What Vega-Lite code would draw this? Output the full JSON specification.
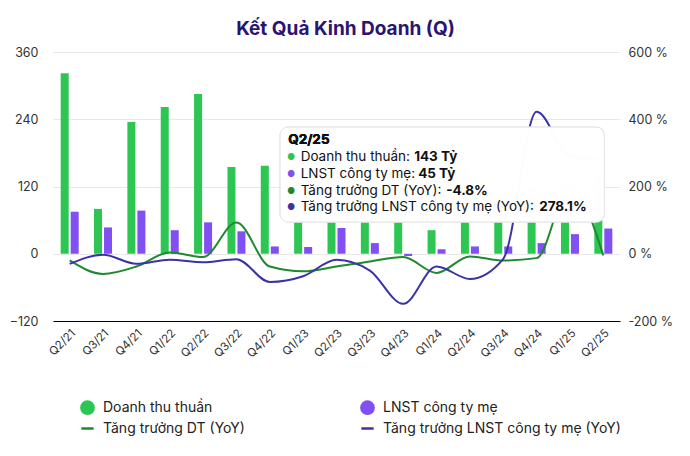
{
  "$schema": "https://vega.github.io/schema/vega-lite/v6.json",
  "width": 567,
  "height": 269,
  "autosize": {"type": "none"},
  "padding": {"left": 53, "top": 52, "right": 70, "bottom": 135},
  "background": "white",
  "config": {
    "font": "Inter",
    "view": {"stroke": null},
    "axis": {"labelFont": "Inter", "labelColor": "#333333", "titleFont": "Inter"},
    "legend": {"labelFont": "Inter"}
  },
  "title": {
    "text": "Kết Quả Kinh Doanh (Q)",
    "fontSize": 19,
    "fontWeight": "bold",
    "color": "#2B1470",
    "anchor": "middle",
    "offset": 7,
    "dx": 9
  },
  "datasets": {
    "main": [
      {"q": "Q2/21", "s": "Doanh thu thuần", "v": 322},
      {"q": "Q3/21", "s": "Doanh thu thuần", "v": 80},
      {"q": "Q4/21", "s": "Doanh thu thuần", "v": 235},
      {"q": "Q1/22", "s": "Doanh thu thuần", "v": 262},
      {"q": "Q2/22", "s": "Doanh thu thuần", "v": 285},
      {"q": "Q3/22", "s": "Doanh thu thuần", "v": 155},
      {"q": "Q4/22", "s": "Doanh thu thuần", "v": 157},
      {"q": "Q1/23", "s": "Doanh thu thuần", "v": 120},
      {"q": "Q2/23", "s": "Doanh thu thuần", "v": 158},
      {"q": "Q3/23", "s": "Doanh thu thuần", "v": 108},
      {"q": "Q4/23", "s": "Doanh thu thuần", "v": 133},
      {"q": "Q1/24", "s": "Doanh thu thuần", "v": 42},
      {"q": "Q2/24", "s": "Doanh thu thuần", "v": 150},
      {"q": "Q3/24", "s": "Doanh thu thuần", "v": 82},
      {"q": "Q4/24", "s": "Doanh thu thuần", "v": 118},
      {"q": "Q1/25", "s": "Doanh thu thuần", "v": 127},
      {"q": "Q2/25", "s": "Doanh thu thuần", "v": 143},
      {"q": "Q2/21", "s": "LNST công ty mẹ", "v": 75},
      {"q": "Q3/21", "s": "LNST công ty mẹ", "v": 47},
      {"q": "Q4/21", "s": "LNST công ty mẹ", "v": 77},
      {"q": "Q1/22", "s": "LNST công ty mẹ", "v": 42},
      {"q": "Q2/22", "s": "LNST công ty mẹ", "v": 56},
      {"q": "Q3/22", "s": "LNST công ty mẹ", "v": 40},
      {"q": "Q4/22", "s": "LNST công ty mẹ", "v": 13},
      {"q": "Q1/23", "s": "LNST công ty mẹ", "v": 12},
      {"q": "Q2/23", "s": "LNST công ty mẹ", "v": 46},
      {"q": "Q3/23", "s": "LNST công ty mẹ", "v": 19},
      {"q": "Q4/23", "s": "LNST công ty mẹ", "v": -4},
      {"q": "Q1/24", "s": "LNST công ty mẹ", "v": 8},
      {"q": "Q2/24", "s": "LNST công ty mẹ", "v": 13},
      {"q": "Q3/24", "s": "LNST công ty mẹ", "v": 13},
      {"q": "Q4/24", "s": "LNST công ty mẹ", "v": 19},
      {"q": "Q1/25", "s": "LNST công ty mẹ", "v": 35},
      {"q": "Q2/25", "s": "LNST công ty mẹ", "v": 45},
      {"q": "Q2/21", "s": "Tăng trưởng DT (YoY)", "v": -20},
      {"q": "Q3/21", "s": "Tăng trưởng DT (YoY)", "v": -60},
      {"q": "Q4/21", "s": "Tăng trưởng DT (YoY)", "v": -38},
      {"q": "Q1/22", "s": "Tăng trưởng DT (YoY)", "v": 4},
      {"q": "Q2/22", "s": "Tăng trưởng DT (YoY)", "v": -10},
      {"q": "Q3/22", "s": "Tăng trưởng DT (YoY)", "v": 93},
      {"q": "Q4/22", "s": "Tăng trưởng DT (YoY)", "v": -38},
      {"q": "Q1/23", "s": "Tăng trưởng DT (YoY)", "v": -52},
      {"q": "Q2/23", "s": "Tăng trưởng DT (YoY)", "v": -38},
      {"q": "Q3/23", "s": "Tăng trưởng DT (YoY)", "v": -23},
      {"q": "Q4/23", "s": "Tăng trưởng DT (YoY)", "v": -10},
      {"q": "Q1/24", "s": "Tăng trưởng DT (YoY)", "v": -57},
      {"q": "Q2/24", "s": "Tăng trưởng DT (YoY)", "v": -8},
      {"q": "Q3/24", "s": "Tăng trưởng DT (YoY)", "v": -20},
      {"q": "Q4/24", "s": "Tăng trưởng DT (YoY)", "v": -13},
      {"q": "Q1/25", "s": "Tăng trưởng DT (YoY)", "v": 200},
      {"q": "Q2/25", "s": "Tăng trưởng DT (YoY)", "v": -4.8},
      {"q": "Q2/21", "s": "Tăng trưởng LNST công ty mẹ (YoY)", "v": -30},
      {"q": "Q3/21", "s": "Tăng trưởng LNST công ty mẹ (YoY)", "v": -3},
      {"q": "Q4/21", "s": "Tăng trưởng LNST công ty mẹ (YoY)", "v": -30},
      {"q": "Q1/22", "s": "Tăng trưởng LNST công ty mẹ (YoY)", "v": -18},
      {"q": "Q2/22", "s": "Tăng trưởng LNST công ty mẹ (YoY)", "v": -25},
      {"q": "Q3/22", "s": "Tăng trưởng LNST công ty mẹ (YoY)", "v": -16},
      {"q": "Q4/22", "s": "Tăng trưởng LNST công ty mẹ (YoY)", "v": -84},
      {"q": "Q1/23", "s": "Tăng trưởng LNST công ty mẹ (YoY)", "v": -67},
      {"q": "Q2/23", "s": "Tăng trưởng LNST công ty mẹ (YoY)", "v": -18},
      {"q": "Q3/23", "s": "Tăng trưởng LNST công ty mẹ (YoY)", "v": -50},
      {"q": "Q4/23", "s": "Tăng trưởng LNST công ty mẹ (YoY)", "v": -149},
      {"q": "Q1/24", "s": "Tăng trưởng LNST công ty mẹ (YoY)", "v": -38},
      {"q": "Q2/24", "s": "Tăng trưởng LNST công ty mẹ (YoY)", "v": -75},
      {"q": "Q3/24", "s": "Tăng trưởng LNST công ty mẹ (YoY)", "v": -15},
      {"q": "Q4/24", "s": "Tăng trưởng LNST công ty mẹ (YoY)", "v": 422},
      {"q": "Q1/25", "s": "Tăng trưởng LNST công ty mẹ (YoY)", "v": 289},
      {"q": "Q2/25", "s": "Tăng trưởng LNST công ty mẹ (YoY)", "v": 278.1}
    ],
    "tip": [
      {"k": 1, "s": "Doanh thu thuần", "lbl": "Doanh thu thuần:", "val": "143 Tỷ"},
      {"k": 2, "s": "LNST công ty mẹ", "lbl": "LNST công ty mẹ:", "val": "45 Tỷ"},
      {"k": 3, "s": "Tăng trưởng DT (YoY)", "lbl": "Tăng trưởng DT (YoY):", "val": "-4.8%"},
      {"k": 4, "s": "Tăng trưởng LNST công ty mẹ (YoY)", "lbl": "Tăng trưởng LNST công ty mẹ (YoY):", "val": "278.1%"}
    ]
  },
  "encoding": {
    "x": {
      "field": "q",
      "type": "nominal",
      "sort": null,
      "scale": {"paddingInner": 0.46, "paddingOuter": 0.23},
      "axis": {
        "title": null,
        "labelAngle": -45,
        "labelFontSize": 11.5,
        "labelPadding": 6,
        "ticks": false,
        "domainColor": "#000000",
        "domainWidth": 1.2,
        "grid": false
      }
    }
  },
  "layer": [
    {
      "data": {"name": "main"},
      "transform": [{"filter": "datum.s === 'Doanh thu thuần' || datum.s === 'LNST công ty mẹ'"}],
      "mark": {"type": "bar"},
      "encoding": {
        "xOffset": {"field": "s", "type": "nominal", "sort": ["Doanh thu thuần", "LNST công ty mẹ"], "scale": {"paddingInner": 0.2}},
        "y": {
          "field": "v",
          "type": "quantitative",
          "scale": {"domain": [-120, 360], "nice": false},
          "axis": {
            "title": null,
            "values": [-120, 0, 120, 240, 360],
            "domain": false,
            "ticks": false,
            "labelPadding": 15,
            "labelFontSize": 12.5,
            "gridColor": "#e8e8e8"
          }
        },
        "color": {
          "field": "s",
          "type": "nominal",
          "scale": {
            "domain": ["Doanh thu thuần", "LNST công ty mẹ", "Tăng trưởng DT (YoY)", "Tăng trưởng LNST công ty mẹ (YoY)"],
            "range": ["#2DC653", "#8150F2", "#1E8A2E", "#3A33A8"]
          },
          "legend": {
            "title": null,
            "orient": "none",
            "legendX": 27,
            "legendY": 348,
            "direction": "horizontal",
            "columns": 2,
            "columnPadding": 111,
            "rowPadding": 2,
            "labelFontSize": 14,
            "labelOffset": 8,
            "labelColor": "#222222",
            "labelLimit": 300,
            "symbolSize": 150,
            "symbolStrokeWidth": 2.5,
            "encode": {
              "symbols": {
                "update": {
                  "shape": {"signal": "indexof(['Doanh thu thuần','LNST công ty mẹ'], datum.value) >= 0 ? 'circle' : 'stroke'"},
                  "fill": {"signal": "indexof(['Doanh thu thuần','LNST công ty mẹ'], datum.value) >= 0 ? scale('color', datum.value) : 'transparent'"},
                  "stroke": {"signal": "scale('color', datum.value)"},
                  "opacity": {"value": 1}
                }
              }
            }
          }
        }
      }
    },
    {
      "data": {"name": "main"},
      "transform": [{"filter": "datum.s !== 'Doanh thu thuần' && datum.s !== 'LNST công ty mẹ'"}],
      "mark": {"type": "line", "interpolate": "monotone", "strokeWidth": 2},
      "encoding": {
        "y": {
          "field": "v",
          "type": "quantitative",
          "scale": {"domain": [-200, 600], "nice": false},
          "axis": {
            "title": null,
            "orient": "right",
            "values": [-200, 0, 200, 400, 600],
            "labelExpr": "datum.value + ' %'",
            "domain": false,
            "ticks": false,
            "grid": false,
            "labelPadding": 8,
            "labelFontSize": 12.5
          }
        },
        "color": {"field": "s", "type": "nominal"}
      }
    },
    {
      "data": {"name": "tip"},
      "layer": [
        {
          "mark": {"type": "rect", "fill": "white", "opacity": 0.72, "cornerRadius": 8, "xOffset": -14, "x2Offset": 1, "stroke": "#e6e6e6", "strokeWidth": 1},
          "encoding": {
            "x": {"datum": "Q1/23", "bandPosition": 0},
            "x2": {"datum": "Q2/25"},
            "y": {"datum": -0.8, "type": "quantitative", "scale": {"domain": [-5.3, 10.81], "reverse": true, "nice": false, "zero": false}, "axis": null},
            "y2": {"datum": 4.88}
          }
        },
        {
          "mark": {"type": "text", "align": "left", "baseline": "middle", "fontSize": 13.5, "fontWeight": "bold", "color": "#111111", "dx": -6},
          "encoding": {
            "x": {"datum": "Q1/23", "bandPosition": 0},
            "y": {"datum": 0, "type": "quantitative"},
            "text": {"value": "Q2/25"}
          }
        },
        {
          "mark": {"type": "text", "align": "center", "baseline": "middle", "fontSize": 9, "dx": -3},
          "encoding": {
            "x": {"datum": "Q1/23", "bandPosition": 0},
            "y": {"field": "k", "type": "quantitative"},
            "text": {"value": "●"},
            "color": {"field": "s", "type": "nominal", "legend": null}
          }
        },
        {
          "mark": {"type": "text", "align": "left", "baseline": "middle", "fontSize": 13.5, "color": "#111111", "dx": 6.5},
          "encoding": {
            "x": {"datum": "Q1/23", "bandPosition": 0},
            "y": {"field": "k", "type": "quantitative"},
            "text": {"field": "lbl"}
          }
        },
        {
          "transform": [{"filter": "datum.k === 1"}],
          "mark": {"type": "text", "align": "left", "baseline": "middle", "fontSize": 13.5, "fontWeight": "bold", "color": "#111111", "dx": 120},
          "encoding": {"x": {"datum": "Q1/23", "bandPosition": 0}, "y": {"field": "k", "type": "quantitative"}, "text": {"field": "val"}}
        },
        {
          "transform": [{"filter": "datum.k === 2"}],
          "mark": {"type": "text", "align": "left", "baseline": "middle", "fontSize": 13.5, "fontWeight": "bold", "color": "#111111", "dx": 124},
          "encoding": {"x": {"datum": "Q1/23", "bandPosition": 0}, "y": {"field": "k", "type": "quantitative"}, "text": {"field": "val"}}
        },
        {
          "transform": [{"filter": "datum.k === 3"}],
          "mark": {"type": "text", "align": "left", "baseline": "middle", "fontSize": 13.5, "fontWeight": "bold", "color": "#111111", "dx": 152},
          "encoding": {"x": {"datum": "Q1/23", "bandPosition": 0}, "y": {"field": "k", "type": "quantitative"}, "text": {"field": "val"}}
        },
        {
          "transform": [{"filter": "datum.k === 4"}],
          "mark": {"type": "text", "align": "left", "baseline": "middle", "fontSize": 13.5, "fontWeight": "bold", "color": "#111111", "dx": 245},
          "encoding": {"x": {"datum": "Q1/23", "bandPosition": 0}, "y": {"field": "k", "type": "quantitative"}, "text": {"field": "val"}}
        }
      ]
    }
  ],
  "resolve": {"scale": {"y": "independent"}}
}
